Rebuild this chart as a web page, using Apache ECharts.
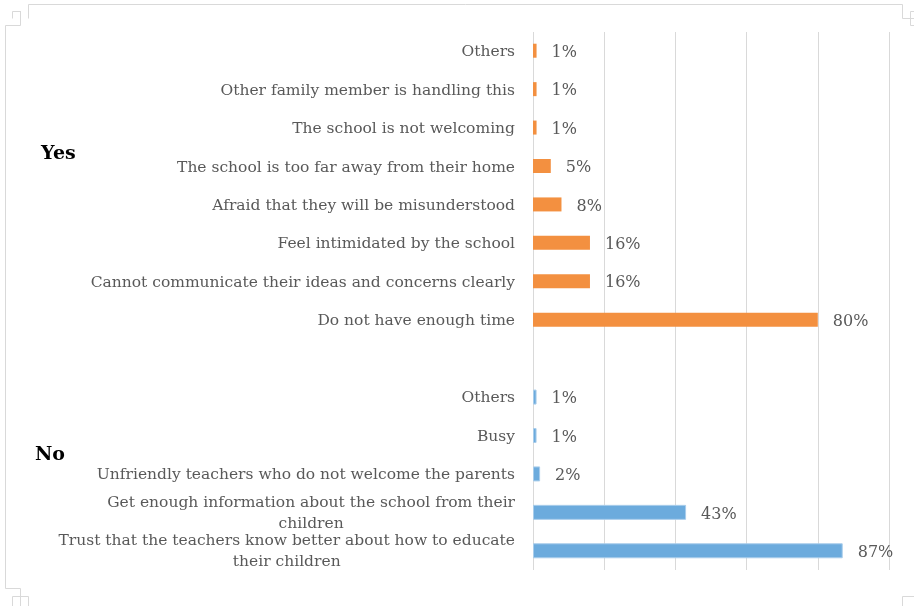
<!DOCTYPE html>
<html>
<head>
<meta charset="utf-8">
<script src="https://cdn.jsdelivr.net/npm/echarts@6/dist/echarts.min.js"></script>
<style>html,body{margin:0;padding:0;background:#fff;}#c{width:914px;height:606px;}</style>
</head>
<body>
<div id="c"></div>
<script>
// Group "Yes" (top to bottom)
var yesCategories = [
  'Others',
  'Other family member is handling this',
  'The school is not welcoming',
  'The school is too far away from their home',
  'Afraid that they will be misunderstood',
  'Feel intimidated by the school',
  'Cannot communicate their ideas and concerns clearly',
  'Do not have enough time'
];
var yesValues = [1, 1, 1, 5, 8, 16, 16, 80];
// Group "No" (top to bottom)
var noCategories = [
  'Others',
  'Busy',
  'Unfriendly teachers who do not welcome the parents',
  'Get enough information about the school from their\nchildren',
  'Trust that the teachers know better about how to educate\ntheir children'
];
var noValues = [1, 1, 2, 43, 87];
var groupLabels = ['Yes', 'No'];
var xTicks = [0, 20, 40, 60, 80, 100];

var labels = yesCategories.concat(['']).concat(noCategories);
var ids = labels.map(function (l, i) { return 'c' + i; });
var orangeData = yesValues.concat(['-']).concat(noCategories.map(function () { return '-'; }));
var blueData = yesCategories.map(function () { return '-'; }).concat(['-']).concat(noValues);

var FONT = 'DejaVu Serif';
var FS = 15.5;
var chart = echarts.init(document.getElementById('c'), null, {renderer: 'canvas'});
chart.setOption({
  animation: false,
  backgroundColor: '#ffffff',
  grid: {left: 533, right: 25, top: 32, bottom: 36, containLabel: false},
  xAxis: {
    type: 'value', min: xTicks[0], max: xTicks[xTicks.length - 1], interval: 20,
    axisLabel: {show: false}, axisLine: {show: false}, axisTick: {show: false},
    splitLine: {show: true, lineStyle: {color: '#d9d9d9', width: 1}}
  },
  yAxis: {
    type: 'category', inverse: true, data: ids,
    axisLine: {show: false}, axisTick: {show: false},
    axisLabel: {
      margin: 18, color: '#595959', fontFamily: FONT, fontSize: FS, padding: [2, 0, 0, 0],
      formatter: function (v, i) {
        var t = labels[i];
        if (t.indexOf('\n') >= 0) {
          return t.split('\n').map(function (s) { return '{c|' + s + '}'; }).join('\n');
        }
        return t;
      },
      rich: {c: {align: 'center', color: '#595959', fontFamily: FONT, fontSize: FS, lineHeight: 21}}
    }
  },
  series: [
    {
      type: 'bar', data: orangeData, barWidth: 14, barGap: '-100%',
      itemStyle: {color: '#F39040'},
      label: {show: true, position: 'right', distance: 15, offset: [0, 2], formatter: '{c}%', color: '#595959', fontFamily: FONT, fontSize: 16}
    },
    {
      type: 'bar', data: blueData, barWidth: 15, barGap: '-100%',
      itemStyle: {color: '#6CABDD', borderColor: '#A9CDEB', borderWidth: 1},
      label: {show: true, position: 'right', distance: 15, offset: [0, 2], formatter: '{c}%', color: '#595959', fontFamily: FONT, fontSize: 16}
    }
  ],
  graphic: [
    {type: 'text', left: 41, top: 145, style: {text: groupLabels[0], font: 'bold 19px "' + FONT + '"', fill: '#000'}},
    {type: 'text', left: 35, top: 446, style: {text: groupLabels[1], font: 'bold 19px "' + FONT + '"', fill: '#000'}},
    {type: 'polyline', shape: {points: [[28.5, 18.5], [28.5, 4.5], [902.5, 4.5], [902.5, 18.5], [914, 18.5]]}, style: {stroke: '#d9d9d9', fill: null, lineWidth: 1}, silent: true},
    {type: 'polyline', shape: {points: [[20.5, 11], [20.5, 25.5], [5.5, 25.5], [5.5, 588.5], [20.5, 588.5], [20.5, 606]]}, style: {stroke: '#d9d9d9', fill: null, lineWidth: 1}, silent: true},
    {type: 'polyline', shape: {points: [[12.5, 18.5], [12.5, 11.5], [20.5, 11.5]]}, style: {stroke: '#d9d9d9', fill: null, lineWidth: 1}, silent: true},
    {type: 'polyline', shape: {points: [[12.5, 606], [12.5, 596.5], [28.5, 596.5], [28.5, 606]]}, style: {stroke: '#d9d9d9', fill: null, lineWidth: 1}, silent: true},
    {type: 'polyline', shape: {points: [[914, 11.5], [910.5, 11.5], [910.5, 25.5], [914, 25.5]]}, style: {stroke: '#d9d9d9', fill: null, lineWidth: 1}, silent: true},
    {type: 'polyline', shape: {points: [[902.5, 606], [902.5, 596.5], [914, 596.5]]}, style: {stroke: '#d9d9d9', fill: null, lineWidth: 1}, silent: true}
  ]
});
</script>
</body>
</html>
